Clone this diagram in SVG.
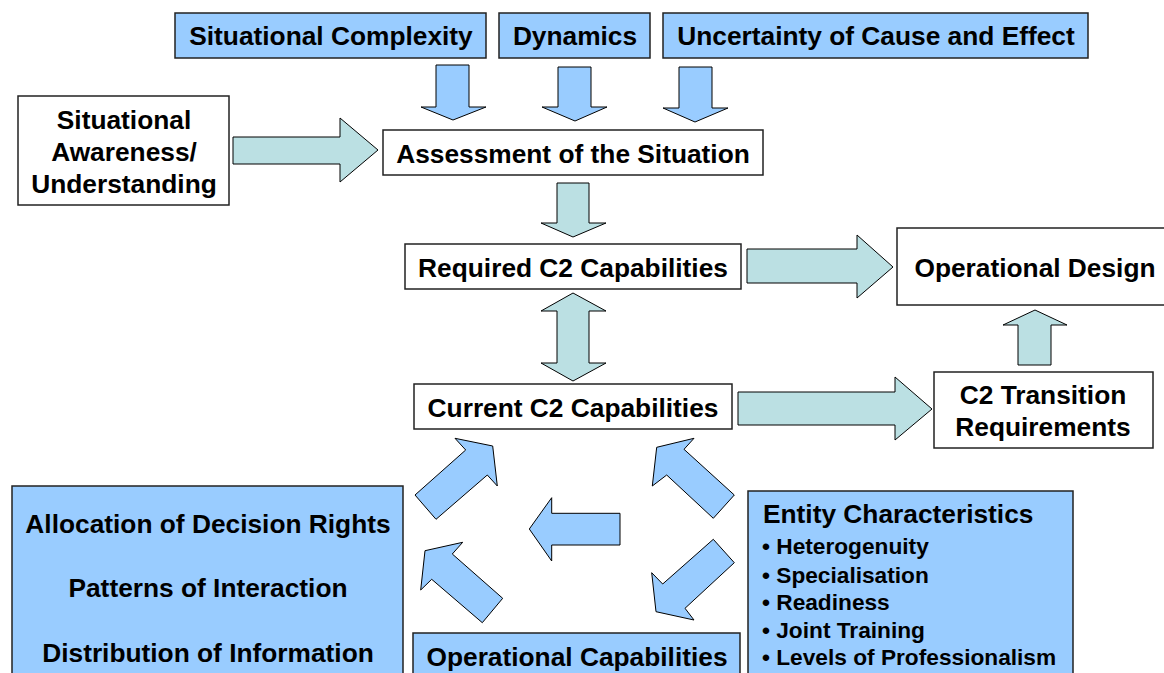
<svg xmlns="http://www.w3.org/2000/svg" width="1164" height="673" viewBox="0 0 1164 673">
<style>
.box{fill:#fff;stroke:#222;stroke-width:1.5}
.blue{fill:#99CCFF;stroke:#222;stroke-width:1.5}
.t{font-family:"Liberation Sans",Arial,sans-serif;font-weight:bold;font-size:26.3px;fill:#000;text-anchor:middle}
.s{font-family:"Liberation Sans",Arial,sans-serif;font-weight:bold;font-size:22.7px;fill:#000}
.ta{fill:#BBE0E3;stroke:#000;stroke-width:1}
.ba{fill:#99CCFF;stroke:#000;stroke-width:1}
</style>
<rect width="1164" height="673" fill="#fff"/>
<g id="connectors">
<polygon class="ba" points="436,65 469,65 469,107 486,107 453,120 421,107 436,107"/>
<polygon class="ba" points="558,67 591,67 591,107 607,107 575,121 542,107 558,107"/>
<polygon class="ba" points="679,67 712,67 712,108 728,108 695,122 663,108 679,108"/>
<polygon class="ta" points="233,137 340,137 340,118 378,150 340,182 340,164 233,164"/>
<polygon class="ta" points="557,183 589,183 589,223 606,223 573,237 541,223 557,223"/>
<polygon class="ta" points="573,293 606,311 589,311 589,363 606,363 573,381 541,363 557,363 557,311 541,311"/>
<polygon class="ta" points="747,249 857,249 857,235 893,267 857,298 857,283 747,283"/>
<polygon class="ta" points="738,392 895,392 895,377 932,409 895,440 895,425 738,425"/>
<polygon class="ta" points="1018,365 1018,325 1003,325 1035,310 1067,325 1051,325 1051,365"/>
<polygon class="ba" points="415,495 465.7,450 455,438.3 492.7,446 497.3,486 487.3,475 436,519.3"/>
<polygon class="ba" points="656.7,447.3 694,438.3 684,449.3 734.3,495 713.3,518.3 666.7,475 652.3,486"/>
<polygon class="ba" points="529.3,529 551.7,497.7 551.7,513.3 620,513.3 620,545 551.7,545 551.7,561"/>
<polygon class="ba" points="425,550.7 462.7,542.3 452.3,554 502.7,598.3 482.3,622.7 431.7,579.3 420.7,590"/>
<polygon class="ba" points="713.3,539.3 734.3,562.7 685,608.3 694,620 656,611.7 651.7,572.7 662.7,584"/>
</g>
<g id="situational-complexity"><rect class="blue" x="175" y="13" width="311" height="45"/><text class="t" x="331" y="45">Situational Complexity</text></g>
<g id="dynamics"><rect class="blue" x="499" y="13" width="151" height="45"/><text class="t" x="575" y="45">Dynamics</text></g>
<g id="uncertainty"><rect class="blue" x="663" y="13" width="425" height="45"/><text class="t" x="876" y="45">Uncertainty of Cause and Effect</text></g>
<g id="situational-awareness"><rect class="box" x="18" y="96" width="211" height="109"/><text class="t" x="124" y="129">Situational</text><text class="t" x="124" y="161">Awareness/</text><text class="t" x="124" y="193">Understanding</text></g>
<g id="assessment"><rect class="box" x="383" y="130" width="380" height="45"/><text class="t" x="573" y="163">Assessment of the Situation</text></g>
<g id="required"><rect class="box" x="405" y="244" width="336" height="45"/><text class="t" x="573" y="277">Required C2 Capabilities</text></g>
<g id="operational-design"><rect class="box" x="897" y="228" width="270" height="77"/><text class="t" x="1035" y="277">Operational Design</text></g>
<g id="current"><rect class="box" x="414" y="384" width="318" height="45"/><text class="t" x="573" y="417">Current C2 Capabilities</text></g>
<g id="transition"><rect class="box" x="934" y="372" width="219" height="76"/><text class="t" x="1043" y="404">C2 Transition</text><text class="t" x="1043" y="436">Requirements</text></g>
<g id="decision-rights"><rect class="blue" x="12" y="486" width="391" height="200"/><text class="t" x="208" y="533">Allocation of Decision Rights</text><text class="t" x="208" y="597">Patterns of Interaction</text><text class="t" x="208" y="662">Distribution of Information</text></g>
<g id="operational-capabilities"><rect class="blue" x="413" y="633" width="327" height="60"/><text class="t" x="577" y="666">Operational Capabilities</text></g>
<g id="entity"><rect class="blue" x="748" y="491" width="325" height="200"/><text class="s" x="763" y="523" style="font-size:26.3px">Entity Characteristics</text><text class="s" x="762" y="554">• Heterogenuity</text><text class="s" x="762" y="583">• Specialisation</text><text class="s" x="762" y="610">• Readiness</text><text class="s" x="762" y="638">• Joint Training</text><text class="s" x="762" y="665">• Levels of Professionalism</text></g>
</svg>
